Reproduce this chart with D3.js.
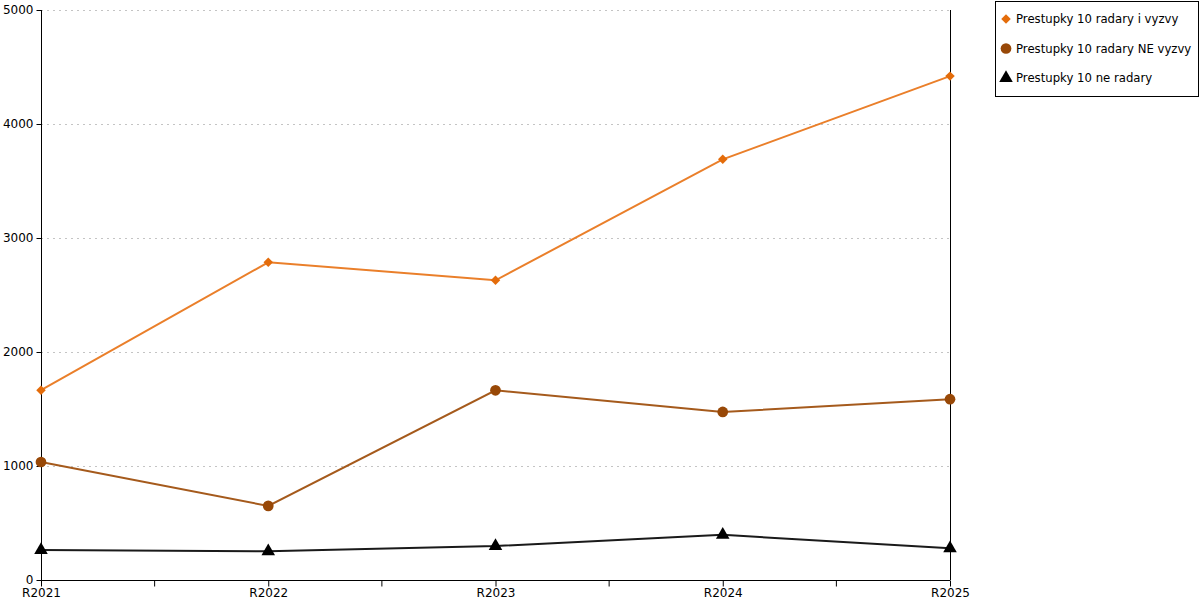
<!DOCTYPE html>
<html><head><meta charset="utf-8">
<script src="https://cdn.jsdelivr.net/npm/d3@7"></script>
<style>body{margin:0;background:#fff}svg{display:block}text{font-family:"DejaVu Sans",sans-serif;font-size:12px;fill:#000}</style>
</head><body><svg id="c" width="1200" height="600"></svg>
<script>
const categories = ["R2021","R2022","R2023","R2024","R2025"];
const seriesNames = ["Prestupky 10 radary i vyzvy","Prestupky 10 radary NE vyzvy","Prestupky 10 ne radary"];
const orangeValues = [1665, 2787, 2629, 3690, 4420];
const brownValues = [1035, 650, 1664, 1474, 1586];
const blackValues = [263, 252, 298, 396, 278];
const yTicks = [0,1000,2000,3000,4000,5000];

const series = [
  {name: seriesNames[0], values: orangeValues, color: "#e46c0a", line: "#ea7f2a", sym: d3.symbolSquare, size: 45, rot: 45},
  {name: seriesNames[1], values: brownValues, color: "#984807", line: "#a55a1c", sym: d3.symbolCircle, size: 90, rot: 0},
  {name: seriesNames[2], values: blackValues, color: "#000000", line: "#1a1a1a", sym: d3.symbolTriangle, size: 80, rot: 0}
];

const svg = d3.select("#c");
const L = 41, R = 950, T = 10, B = 580;
const x = d3.scalePoint().domain(categories).range([L, R]);
const y = d3.scaleLinear().domain([0, 5000]).range([B, T]);

// gridlines
svg.append("g").selectAll("line").data(yTicks.filter(d => d > 0)).join("line")
  .attr("x1", L).attr("x2", R).attr("y1", d => y(d)+0.5).attr("y2", d => y(d)+0.5)
  .attr("stroke", "#c4c4c4").attr("stroke-dasharray", "2,4").attr("shape-rendering","crispEdges");

// y axis
const ya = svg.append("g").attr("transform", `translate(${L+0.5},0)`)
  .call(d3.axisLeft(y).tickValues(yTicks).tickSize(5).tickPadding(3).tickFormat(d3.format("d")));
ya.select(".domain").attr("d", `M0,${T}V${B}`);
ya.selectAll("text").style("font-size","12px").attr("font-family","DejaVu Sans");

// x axis with minor ticks
const xa = svg.append("g").attr("transform", `translate(0,${B+0.5})`)
  .call(d3.axisBottom(x).tickSize(6).tickPadding(3));
xa.select(".domain").attr("d", `M${L},0H${R}`);
xa.selectAll("text").style("font-size","12px").attr("font-family","DejaVu Sans").attr("dy","0.6em");
const mids = categories.slice(1).map((c,i) => (x(categories[i]) + x(c))/2);
xa.append("g").selectAll("line").data(mids).join("line")
  .attr("x1", d => d).attr("x2", d => d).attr("y1", 0).attr("y2", 6).attr("stroke", "#000");

// right vertical line
svg.append("line").attr("x1", R+0.5).attr("x2", R+0.5).attr("y1", T).attr("y2", B)
  .attr("stroke", "#000");

// series
const lineGen = d3.line().x((d,i) => x(categories[i])).y(d => y(d));
series.forEach(s => {
  svg.append("path").datum(s.values).attr("d", lineGen)
    .attr("fill","none").attr("stroke", s.line).attr("stroke-width", 2);
  svg.append("g").selectAll("path").data(s.values).join("path")
    .attr("transform", (d,i) => `translate(${x(categories[i])},${y(d)}) rotate(${s.rot})`)
    .attr("d", d3.symbol().type(s.sym).size(s.size)).attr("fill", s.color);
});

// legend
const lg = svg.append("g");
lg.append("rect").attr("x", 995.5).attr("y", 1.5).attr("width", 203).attr("height", 95)
  .attr("fill","#fff").attr("stroke","#000");
series.forEach((s,i) => {
  const yy = 19 + i*29.5;
  lg.append("path").attr("transform", `translate(1006,${yy}) rotate(${s.rot})`)
    .attr("d", d3.symbol().type(s.sym).size(s.size)).attr("fill", s.color);
  lg.append("text").attr("x", 1016).attr("y", yy).attr("dy","0.35em").style("font-size","11.7px").text(s.name);
});
</script></body></html>
